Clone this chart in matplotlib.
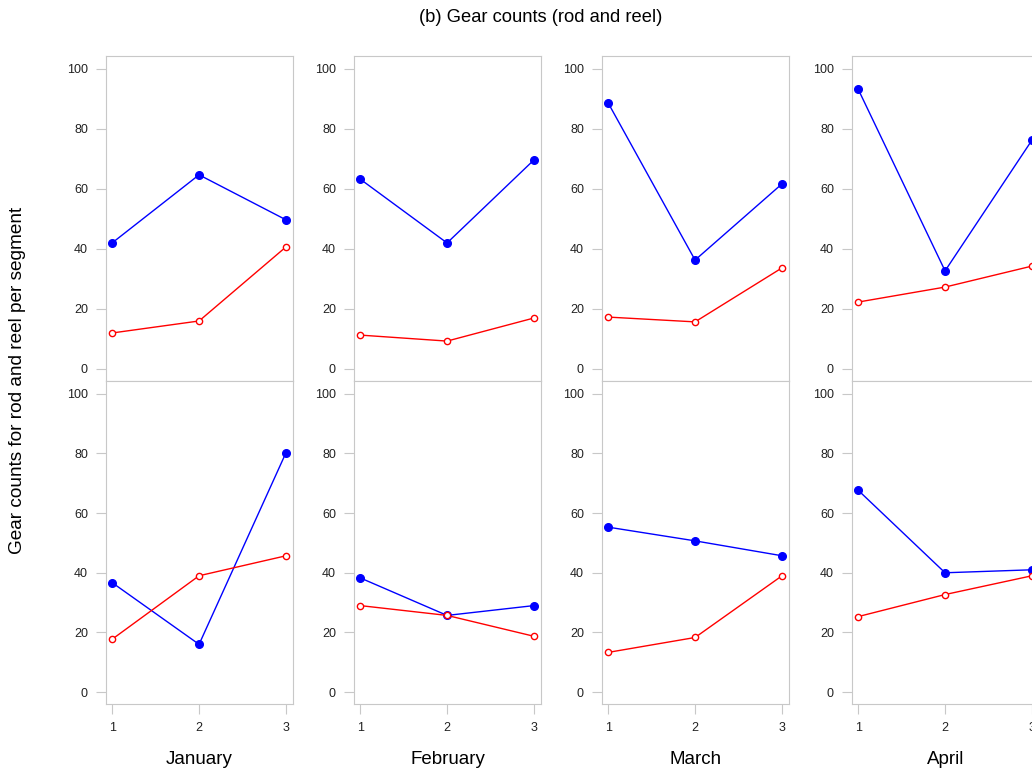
import matplotlib.pyplot as plt

plt.rcParams['font.family'] = ['Liberation Sans', 'DejaVu Sans']

months = ["January", "February", "March", "April"]
segments = [1, 2, 3]

# top row
top_blue = [[42, 64.7, 49.7], [63.3, 42, 69.7], [88.7, 36.3, 61.7], [93.3, 32.7, 76.3]]
top_red = [[12, 16, 40.7], [11.3, 9.3, 17], [17.3, 15.7, 33.7], [22.3, 27.3, 34.3]]
# bottom row
bot_blue = [[36.7, 16, 80.3], [38.3, 25.7, 29], [55.3, 50.7, 45.7], [67.7, 40, 41]]
bot_red = [[17.7, 39, 45.7], [29, 25.7, 18.7], [13.3, 18.3, 39], [25.3, 32.7, 39]]

W, H = 1032, 769
fig = plt.figure(figsize=(W / 100, H / 100), dpi=100)

grey = "#c8c8c8"
lefts = [106, 354, 602, 852]
pw = 187
rows = [(56, 381, top_blue, top_red), (381, 704, bot_blue, bot_red)]

for r, (ytop, ybot, blues, reds) in enumerate(rows):
    for i, x0 in enumerate(lefts):
        ax = fig.add_axes([x0 / W, 1 - ybot / H, pw / W, (ybot - ytop) / H])
        ax.plot(segments, blues[i], color="blue", lw=1, marker="o", ms=5.5,
                mfc="blue", mec="blue")
        ax.plot(segments, reds[i], color="red", lw=1, marker="o", ms=4.5,
                mfc="white", mec="red", mew=1)
        ax.set_xlim(0.93, 3.08)
        ax.set_ylim(-4, 104.3)
        ax.set_yticks([0, 20, 40, 60, 80, 100])
        for s in ax.spines.values():
            s.set_color(grey)
        ax.tick_params(axis="y", colors=grey, labelcolor="#222222", labelsize=9,
                       length=7, pad=6)
        if r == 1:
            ax.set_xticks(segments)
            ax.tick_params(axis="x", colors=grey, labelcolor="#222222", labelsize=9,
                           length=7, pad=6)
            ax.set_xlabel(months[i], fontsize=13.5, labelpad=12)
        else:
            ax.set_xticks([])

fig.text(541 / W, 1 - 17 / H, "(b) Gear counts (rod and reel)", ha="center",
         va="center", fontsize=13.2)
fig.text(18 / W, 1 - 380 / H, "Gear counts for rod and reel per segment",
         rotation=90, ha="center", va="center", fontsize=13.7)

fig.savefig("out.png", dpi=100)
